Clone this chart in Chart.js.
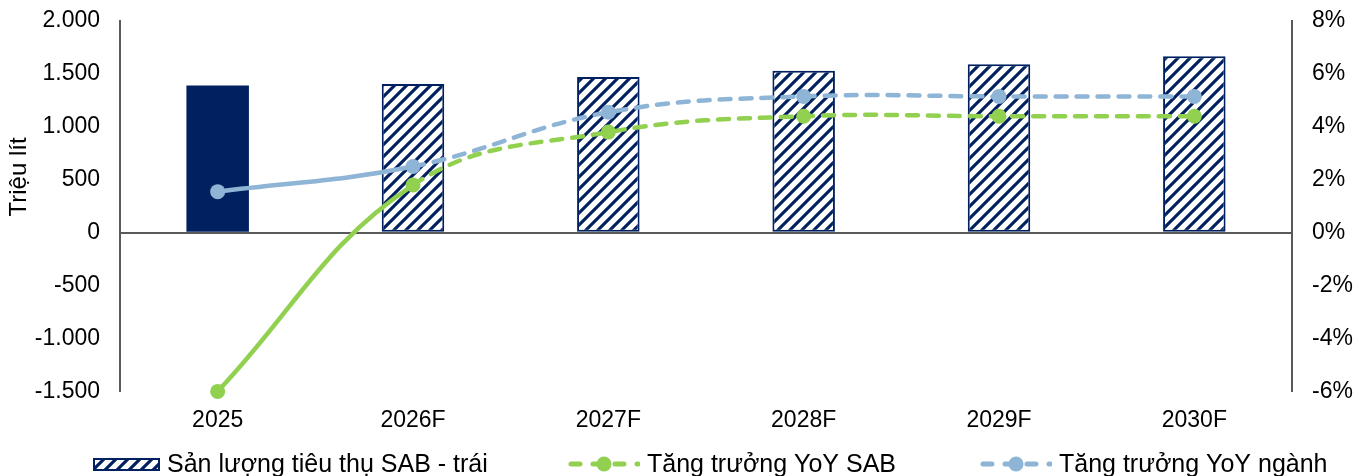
<!DOCTYPE html>
<html>
<head>
<meta charset="utf-8">
<script src="https://cdn.jsdelivr.net/npm/chart.js@4.4.1/dist/chart.umd.min.js"></script>
<style>
  html, body { margin: 0; padding: 0; background: #fff; }
  #wrap { width: 1370px; height: 476px; position: relative; }
</style>
</head>
<body>
<div id="wrap"><canvas id="sabChart"></canvas></div>
<script>
// data
const years = ['2025', '2026F', '2027F', '2028F', '2029F', '2030F'];
const volume = [1390, 1405, 1470, 1530, 1592, 1668];          // Triệu lít
const growthSAB = [-6.0, 1.8, 3.8, 4.4, 4.4, 4.4];            // %
const growthIndustry = [1.55, 2.5, 4.55, 5.15, 5.15, 5.15];   // %
const leftTicks = [-1500, -1000, -500, 0, 500, 1000, 1500, 2000];
const rightTicks = [-6, -4, -2, 0, 2, 4, 6, 8];

const NAVY = '#002060';
const GREEN = '#92D050';
const BLUE = '#8EB4D6';
const AXIS = '#595959';
const FAMILY = '"Liberation Sans", Arial, sans-serif';
const TICK_FONT = { family: FAMILY, size: 23 };

function fmtThousands(v) {
    const s = String(Math.abs(v)).replace(/\B(?=(\d{3})+(?!\d))/g, '.');
    return (v < 0 ? '-' : '') + s;
}

function makeHatch(color) {
    const size = 12;
    const c = document.createElement('canvas');
    c.width = size;
    c.height = size;
    const g = c.getContext('2d');
    g.fillStyle = '#fff';
    g.fillRect(0, 0, size, size);
    g.strokeStyle = color;
    g.lineWidth = 3.1;
    g.beginPath();
    g.moveTo(0, size); g.lineTo(size, 0);
    g.moveTo(-2, 2); g.lineTo(2, -2);
    g.moveTo(size - 2, size + 2); g.lineTo(size + 2, size - 2);
    g.stroke();
    return g.createPattern(c, 'repeat');
}

function legendBox(pattern) {
    const c = document.createElement('canvas');
    c.width = 67;
    c.height = 13;
    const g = c.getContext('2d');
    g.fillStyle = pattern;
    g.fillRect(0, 0, c.width, c.height);
    g.strokeStyle = NAVY;
    g.lineWidth = 2;
    g.strokeRect(1, 1, c.width - 2, c.height - 2);
    return c;
}

function legendLine(color) {
    const c = document.createElement('canvas');
    c.width = 72;
    c.height = 18;
    const g = c.getContext('2d');
    g.strokeStyle = color;
    g.lineWidth = 5;
    g.lineCap = 'round';
    g.setLineDash([9, 13]);
    g.beginPath();
    g.moveTo(3, 9);
    g.lineTo(70, 9);
    g.stroke();
    g.fillStyle = color;
    g.beginPath();
    g.arc(36, 9, 7.5, 0, Math.PI * 2);
    g.fill();
    return c;
}

const hatch = makeHatch(NAVY);
const legendMarkers = [legendBox(hatch), legendLine(GREEN), legendLine(BLUE)];
const legendX = [93, 568, 980];

// Excel-like legend row + rotated left axis title
const extras = {
    id: 'extras',
    afterDraw(chart) {
        const { ctx } = chart;
        ctx.save();
        ctx.fillStyle = '#000';
        ctx.textBaseline = 'middle';

        ctx.font = '25px ' + FAMILY;
        chart.data.datasets.forEach((ds, i) => {
            const img = legendMarkers[i];
            const x = legendX[i];
            ctx.drawImage(img, x, Math.round(464 - img.height / 2));
            ctx.fillText(ds.label, x + img.width + 7, 465);
        });

        ctx.font = '24px ' + FAMILY;
        ctx.translate(19, 177);
        ctx.rotate(-Math.PI / 2);
        ctx.textAlign = 'center';
        ctx.fillText('Triệu lít', 0, 0);
        ctx.restore();
    },
};

// first segment solid, the forecast part dashed
const dashAfterFirst = c => c.p0DataIndex === 0 ? [] : [11, 10];

function lineDataset(label, data, color) {
    return {
        type: 'line',
        label: label,
        data: data,
        yAxisID: 'y1',
        clip: false,
        borderColor: color,
        backgroundColor: color,
        borderWidth: 4.5,
        borderCapStyle: 'round',
        pointRadius: 7.5,
        pointHoverRadius: 7.5,
        pointBorderWidth: 0,
        pointBackgroundColor: color,
        tension: 0.4,
        segment: { borderDash: dashAfterFirst },
        order: 1,
    };
}

// value axes: no extra room for half labels, the layout padding does it
function fixedAxis(width) {
    return s => {
        s.width = width;
        s.paddingTop = 0;
        s.paddingBottom = 0;
    };
}

const ctx = document.getElementById('sabChart');

new Chart(ctx, {
    type: 'bar',
    data: {
        labels: years,
        datasets: [
            {
                type: 'bar',
                label: 'Sản lượng tiêu thụ SAB - trái',
                data: volume,
                yAxisID: 'y',
                backgroundColor: volume.map((v, i) => i === 0 ? NAVY : hatch),
                borderColor: NAVY,
                borderWidth: volume.map((v, i) => i === 0 ? 0 : 2),
                borderSkipped: false,
                barPercentage: 0.32,
                categoryPercentage: 1,
                order: 3,
            },
            lineDataset('Tăng trưởng YoY SAB', growthSAB, GREEN),
            lineDataset('Tăng trưởng YoY ngành', growthIndustry, BLUE),
        ],
    },
    options: {
        responsive: true,
        maintainAspectRatio: false,
        animation: false,
        layout: { padding: { top: 21, right: 0, bottom: 27, left: 0 } },
        plugins: {
            tooltip: { enabled: false },
            legend: { display: false },
        },
        scales: {
            x: {
                offset: true,
                grid: { display: false, drawTicks: false },
                border: { display: false },
                ticks: { font: TICK_FONT, color: '#000', padding: 15 },
            },
            y: {
                position: 'left',
                min: leftTicks[0],
                max: leftTicks[leftTicks.length - 1],
                afterBuildTicks: s => { s.ticks = leftTicks.map(v => ({ value: v })); },
                ticks: { font: TICK_FONT, color: '#000', padding: 20, callback: v => fmtThousands(v) },
                grid: {
                    drawTicks: false,
                    color: c => c.tick && c.tick.value === 0 ? AXIS : 'transparent',
                    lineWidth: 2,
                },
                border: { color: AXIS, width: 2 },
                afterFit: fixedAxis(120),
            },
            y1: {
                position: 'right',
                min: rightTicks[0],
                max: rightTicks[rightTicks.length - 1],
                afterBuildTicks: s => { s.ticks = rightTicks.map(v => ({ value: v })); },
                ticks: { font: TICK_FONT, color: '#000', padding: 20, callback: v => v + '%' },
                grid: { display: false, drawTicks: false },
                border: { color: AXIS, width: 2 },
                afterFit: fixedAxis(78),
            },
        },
    },
    plugins: [extras],
});
</script>
</body>
</html>
